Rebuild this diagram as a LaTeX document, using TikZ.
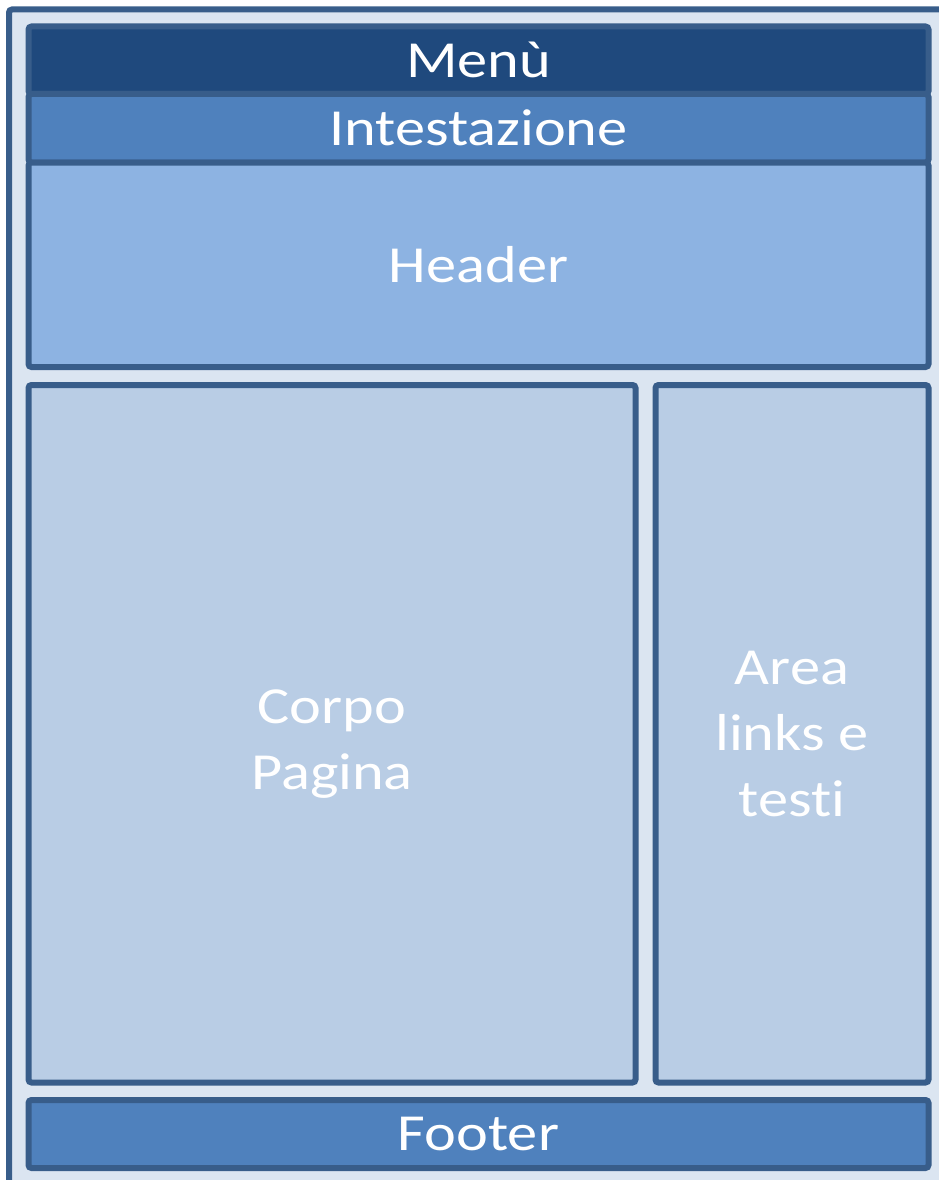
\documentclass[tikz,border=0pt]{standalone}
\usepackage{fontspec}
\setmainfont{Carlito}[FakeStretch=1.16, Ligatures=NoCommon]
\usetikzlibrary{positioning}
\definecolor{menuNavy}{HTML}{1F497D}
\definecolor{bandBlue}{HTML}{4F81BD}
\definecolor{headerBlue}{HTML}{8DB3E2}
\definecolor{paleBlue}{HTML}{B9CDE5}
\definecolor{pageTint}{HTML}{DBE5F1}
\definecolor{frameBlue}{HTML}{385D8A}
\newcommand{\boxfont}{\fontsize{52}{66}\selectfont}

\begin{document}
\begin{tikzpicture}[x=1pt, y=1pt, node distance=18pt and 20pt,
          box/.style={draw=frameBlue, line width=6pt, rounded corners=3pt, outer sep=0pt, inner sep=0pt, text=white, font=\boxfont, align=center},
          wide/.style={box, minimum width=900pt}]
        \clip (0,0) rectangle (939,-1180);
        % page frame, runs off the right and bottom edge
        \draw[frameBlue, line width=6pt, fill=pageTint, rounded corners=3pt] (9,-9.5) rectangle (980,-1220);
        \node[wide, fill=menuNavy, anchor=north west, minimum height=67.5pt] (menu) at (28.5,-26.5) {Menù};
        \node[wide, fill=bandBlue, below=0pt of menu, minimum height=68.5pt] (intest) {Intestazione};
        \node[wide, fill=headerBlue, below=0pt of intest, minimum height=204.5pt] (header) {Header};
        \node[box, fill=paleBlue, below=18pt of header.south west, anchor=north west, minimum width=607pt, minimum height=697.5pt] (corpo) {\\[-12pt]Corpo\\Pagina};
        \node[box, fill=paleBlue, right=of corpo, minimum width=273pt, minimum height=697.5pt] (area) {Area\\links e\\testi};
        \node[wide, fill=bandBlue, below=17.5pt of corpo.south west, anchor=north west, minimum height=68pt] (footer) {Footer};
      \end{tikzpicture}
\end{document}
